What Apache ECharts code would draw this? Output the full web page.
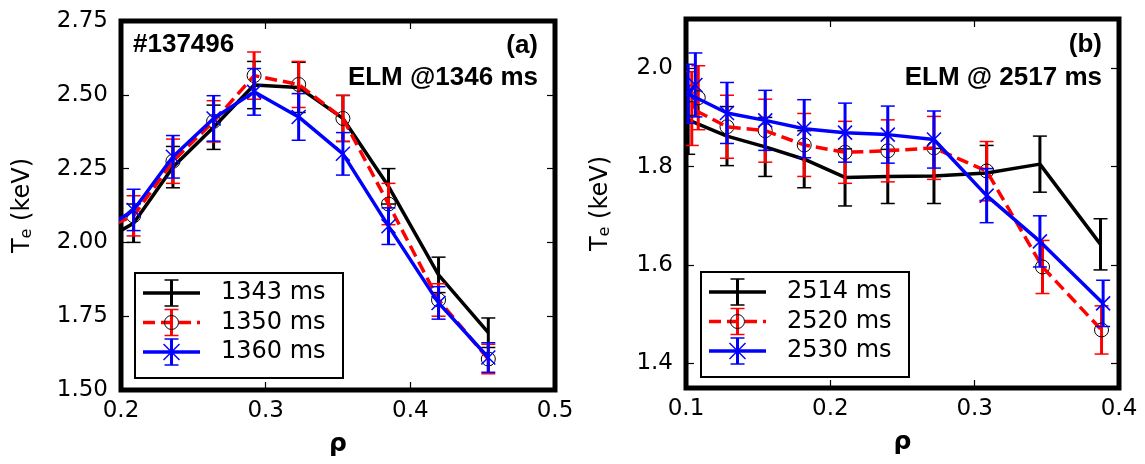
<!DOCTYPE html>
<html lang="en">
<head>
<meta charset="UTF-8">
<title>Te profiles around ELM</title>
<style>
  html, body { margin: 0; padding: 0; background: #fff; }
  #main { width: 1145px; height: 464px; }
</style>
</head>
<body>
<div id="main"></div>
<script src="https://cdn.jsdelivr.net/npm/echarts@6.0.0/dist/echarts.min.js"></script>
<script>
// ---- panel (a): #137496, ELM @1346 ms ----
// first rho (0.185) lies left of the axis, only there so the lines run to the frame
var rhoA    = [0.185, 0.2087, 0.2359, 0.2640, 0.2920, 0.3228, 0.3534, 0.3849, 0.4195, 0.4539];
var te1343  = [1.998, 2.065, 2.255, 2.390, 2.533, 2.525, 2.420, 2.190, 1.890, 1.694];
var err1343 = [null, 0.065, 0.070, 0.075, 0.080, 0.085, 0.078, 0.060, 0.060, 0.050];
var te1350  = [2.040, 2.090, 2.275, 2.410, 2.565, 2.535, 2.420, 2.130, 1.805, 1.605];
var err1350 = [null, 0.068, 0.075, 0.070, 0.080, 0.078, 0.078, 0.070, 0.055, 0.050];
var te1360  = [2.032, 2.110, 2.290, 2.420, 2.510, 2.425, 2.300, 2.055, 1.795, 1.610];
var err1360 = [null, 0.070, 0.072, 0.077, 0.079, 0.079, 0.072, 0.062, 0.055, 0.050];

// ---- panel (b): ELM @ 2517 ms ----
var rho2514 = [0.1015, 0.1284, 0.1549, 0.1819, 0.2102, 0.2398, 0.2718, 0.3083, 0.3452, 0.3872];
var te2514  = [1.895, 1.862, 1.840, 1.815, 1.778, 1.780, 1.781, 1.787, 1.805, 1.642];
var err2514 = [0.070, 0.060, 0.060, 0.058, 0.058, 0.055, 0.056, 0.056, 0.057, 0.052];
var rho2520 = [0.1085, 0.1040, 0.1284, 0.1549, 0.1819, 0.2102, 0.2398, 0.2718, 0.3083, 0.3470, 0.3879];
var te2520  = [1.940, 1.918, 1.881, 1.873, 1.844, 1.829, 1.832, 1.838, 1.791, 1.596, 1.468];
var err2520 = [0.065, 0.075, 0.064, 0.064, 0.064, 0.063, 0.063, 0.064, 0.060, 0.054, 0.049];
var rho2530 = [0.1065, 0.1015, 0.1284, 0.1549, 0.1819, 0.2102, 0.2398, 0.2718, 0.3083, 0.3452, 0.3890];
var te2530  = [1.966, 1.948, 1.909, 1.894, 1.877, 1.869, 1.865, 1.855, 1.741, 1.648, 1.522];
var err2530 = [0.065, 0.060, 0.062, 0.061, 0.059, 0.060, 0.058, 0.058, 0.055, 0.052, 0.047];

// ticks
var xTicksA = [0.2, 0.3, 0.4, 0.5];
var yTicksA = [1.50, 1.75, 2.00, 2.25, 2.50, 2.75];
var xTicksB = [0.1, 0.2, 0.3, 0.4];
var yTicksB = [1.4, 1.6, 1.8, 2.0];

var labelsA = ['1343 ms', '1350 ms', '1360 ms'];
var labelsB = ['2514 ms', '2520 ms', '2530 ms'];

var BLACK = '#000000', RED = '#ff0000', BLUE = '#0000ff';
var NUMFONT = 'DejaVu Sans';

function pts(rho, te) {
    return rho.map(function (r, i) { return [r, te[i]]; });
}
function bars(rho, te, err) {
    var out = [];
    for (var i = 0; i < rho.length; i++) {
        if (err[i] != null) out.push([rho[i], te[i], err[i]]);
    }
    return out;
}

// error bar + marker drawn from the data through the axis scale
function errItem(color, marker) {
    return function (params, api) {
        var x = api.value(0), y = api.value(1), e = api.value(2);
        var p = api.coord([x, y]);
        var hi = api.coord([x, y + e]);
        var lo = api.coord([x, y - e]);
        var kids = [
            { type: 'line', shape: { x1: p[0], y1: hi[1], x2: p[0], y2: lo[1] }, style: { stroke: color, lineWidth: 3 } },
            { type: 'line', shape: { x1: p[0] - 7, y1: hi[1], x2: p[0] + 7, y2: hi[1] }, style: { stroke: color, lineWidth: 1.5 } },
            { type: 'line', shape: { x1: p[0] - 7, y1: lo[1], x2: p[0] + 7, y2: lo[1] }, style: { stroke: color, lineWidth: 1.5 } }
        ];
        if (marker === 'o') {
            kids.push({ type: 'circle', shape: { cx: p[0], cy: p[1], r: 7 }, style: { fill: 'none', stroke: BLACK, lineWidth: 1 } });
        }
        if (marker === 'x') {
            kids.push({ type: 'line', shape: { x1: p[0] - 7, y1: p[1] - 7, x2: p[0] + 7, y2: p[1] + 7 }, style: { stroke: color, lineWidth: 1.5 } });
            kids.push({ type: 'line', shape: { x1: p[0] - 7, y1: p[1] + 7, x2: p[0] + 7, y2: p[1] - 7 }, style: { stroke: color, lineWidth: 1.5 } });
        }
        return { type: 'group', children: kids };
    };
}

function lineSeries(gi, data, color, dashed, z) {
    return {
        type: 'line', xAxisIndex: gi * 2, yAxisIndex: gi * 2, data: data,
        symbol: 'none', clip: true, z: z, animation: false,
        lineStyle: { color: color, width: 3.5, type: dashed ? [12, 6] : 'solid' }
    };
}
function barSeries(gi, data, color, marker, z) {
    return {
        type: 'custom', xAxisIndex: gi * 2, yAxisIndex: gi * 2, data: data,
        renderItem: errItem(color, marker), clip: true, z: z, animation: false,
        encode: { x: 0, y: 1 }
    };
}

function xAxes(gi, min, max, ticks) {
    var tick = { show: true, inside: true, length: 8, customValues: ticks, lineStyle: { color: BLACK, width: 1.2 } };
    return [
        {
            type: 'value', gridIndex: gi, min: min, max: max, position: 'bottom',
            axisLine: { show: false }, splitLine: { show: false }, axisTick: tick,
            axisLabel: { customValues: ticks, margin: 10, color: BLACK, fontFamily: NUMFONT, fontSize: 23,
                formatter: function (v) { return v.toFixed(1); } },
            name: 'ρ', nameLocation: 'middle', nameGap: 42,
            nameTextStyle: { color: BLACK, fontFamily: NUMFONT, fontWeight: 'bold', fontSize: 25 }
        },
        {
            type: 'value', gridIndex: gi, min: min, max: max, position: 'top',
            axisLine: { show: false }, splitLine: { show: false }, axisTick: tick,
            axisLabel: { show: false }
        }
    ];
}
function yAxes(gi, min, max, ticks, digits, gap) {
    var tick = { show: true, inside: true, length: 8, customValues: ticks, lineStyle: { color: BLACK, width: 1.2 } };
    return [
        {
            type: 'value', gridIndex: gi, min: min, max: max, position: 'left',
            axisLine: { show: false }, splitLine: { show: false }, axisTick: tick,
            axisLabel: { customValues: ticks, margin: 13, color: BLACK, fontFamily: NUMFONT, fontSize: 23,
                formatter: function (v) { return v.toFixed(digits); } },
            name: '{t|T}{s|e} (keV)', nameLocation: 'middle', nameGap: gap, nameRotate: 90,
            nameTextStyle: {
                color: BLACK, fontFamily: NUMFONT, fontSize: 24,
                rich: {
                    t: { color: BLACK, fontFamily: NUMFONT, fontSize: 24 },
                    s: { color: BLACK, fontFamily: NUMFONT, fontSize: 16, verticalAlign: 'bottom' }
                }
            }
        },
        {
            type: 'value', gridIndex: gi, min: min, max: max, position: 'right',
            axisLine: { show: false }, splitLine: { show: false }, axisTick: tick,
            axisLabel: { show: false }
        }
    ];
}

// legend box drawn by hand: line + error bar + marker per row
function legendBox(x, y, labels) {
    var styles = [
        { color: BLACK, dash: null, marker: null },
        { color: RED, dash: [12, 6], marker: 'o' },
        { color: BLUE, dash: null, marker: 'x' }
    ];
    var els = [{
        type: 'rect', left: x, top: y, z: 50,
        shape: { width: 208, height: 105 },
        style: { fill: '#fff', stroke: BLACK, lineWidth: 2 }
    }];
    styles.forEach(function (s, i) {
        var cy = y + 21 + i * 29.5, x1 = x + 9, x2 = x + 66, cx = (x1 + x2) / 2;
        var ls = { stroke: s.color, lineWidth: 3.5 };
        if (s.dash) ls.lineDash = s.dash;
        els.push({ type: 'line', z: 51, shape: { x1: x1, y1: cy, x2: x2, y2: cy }, style: ls });
        els.push({ type: 'line', z: 51, shape: { x1: cx, y1: cy - 13, x2: cx, y2: cy + 13 }, style: { stroke: s.color, lineWidth: 3 } });
        els.push({ type: 'line', z: 51, shape: { x1: cx - 7, y1: cy - 13, x2: cx + 7, y2: cy - 13 }, style: { stroke: s.color, lineWidth: 1.5 } });
        els.push({ type: 'line', z: 51, shape: { x1: cx - 7, y1: cy + 13, x2: cx + 7, y2: cy + 13 }, style: { stroke: s.color, lineWidth: 1.5 } });
        if (s.marker === 'o') {
            els.push({ type: 'circle', z: 52, shape: { cx: cx, cy: cy, r: 7 }, style: { fill: 'none', stroke: BLACK, lineWidth: 1 } });
        }
        if (s.marker === 'x') {
            els.push({ type: 'line', z: 52, shape: { x1: cx - 8, y1: cy - 8, x2: cx + 8, y2: cy + 8 }, style: { stroke: s.color, lineWidth: 1.5 } });
            els.push({ type: 'line', z: 52, shape: { x1: cx - 8, y1: cy + 8, x2: cx + 8, y2: cy - 8 }, style: { stroke: s.color, lineWidth: 1.5 } });
        }
        els.push({
            type: 'text', z: 52, x: x + 87, y: cy,
            style: { text: labels[i], fill: BLACK, font: '24px "DejaVu Sans"', textVerticalAlign: 'middle' }
        });
    });
    return els;
}

function note(text, x, y, align) {
    return {
        type: 'text', z: 40, x: x, y: y,
        style: { text: text, fill: BLACK, font: 'bold 26px "Liberation Sans"', textAlign: align, textVerticalAlign: 'middle' }
    };
}

var chart = echarts.init(document.getElementById('main'));

var option = {
    animation: false,
    backgroundColor: '#fff',
    grid: [
        { left: 121, top: 21, width: 434, height: 369, show: true, borderColor: BLACK, borderWidth: 5, backgroundColor: '#fff' },
        { left: 686, top: 19, width: 433, height: 369, show: true, borderColor: BLACK, borderWidth: 5, backgroundColor: '#fff' }
    ],
    xAxis: xAxes(0, 0.2, 0.5, xTicksA).concat(xAxes(1, 0.1, 0.4, xTicksB)),
    yAxis: yAxes(0, 1.5, 2.75, yTicksA, 2, 86).concat(yAxes(1, 1.35, 2.1, yTicksB, 1, 73)),
    series: [
        lineSeries(0, pts(rhoA, te1343), BLACK, false, 2),
        barSeries(0, bars(rhoA, te1343, err1343), BLACK, null, 2),
        lineSeries(0, pts(rhoA, te1350), RED, true, 3),
        barSeries(0, bars(rhoA, te1350, err1350), RED, 'o', 3),
        lineSeries(0, pts(rhoA, te1360), BLUE, false, 4),
        barSeries(0, bars(rhoA, te1360, err1360), BLUE, 'x', 4),

        lineSeries(1, pts(rho2514, te2514), BLACK, false, 2),
        barSeries(1, bars(rho2514, te2514, err2514), BLACK, null, 2),
        lineSeries(1, pts(rho2520, te2520), RED, true, 3),
        barSeries(1, bars(rho2520, te2520, err2520), RED, 'o', 3),
        lineSeries(1, pts(rho2530, te2530), BLUE, false, 4),
        barSeries(1, bars(rho2530, te2530, err2530), BLUE, 'x', 4)
    ],
    graphic: [
        note('#137496', 133, 45, 'left'),
        note('(a)', 538, 46, 'right'),
        note('ELM @1346 ms', 538, 78, 'right'),
        note('(b)', 1102, 45, 'right'),
        note('ELM @ 2517 ms', 1102, 78, 'right')
    ].concat(legendBox(134, 272, labelsA), legendBox(700, 271, labelsB))
};

chart.setOption(option);
</script>
</body>
</html>
